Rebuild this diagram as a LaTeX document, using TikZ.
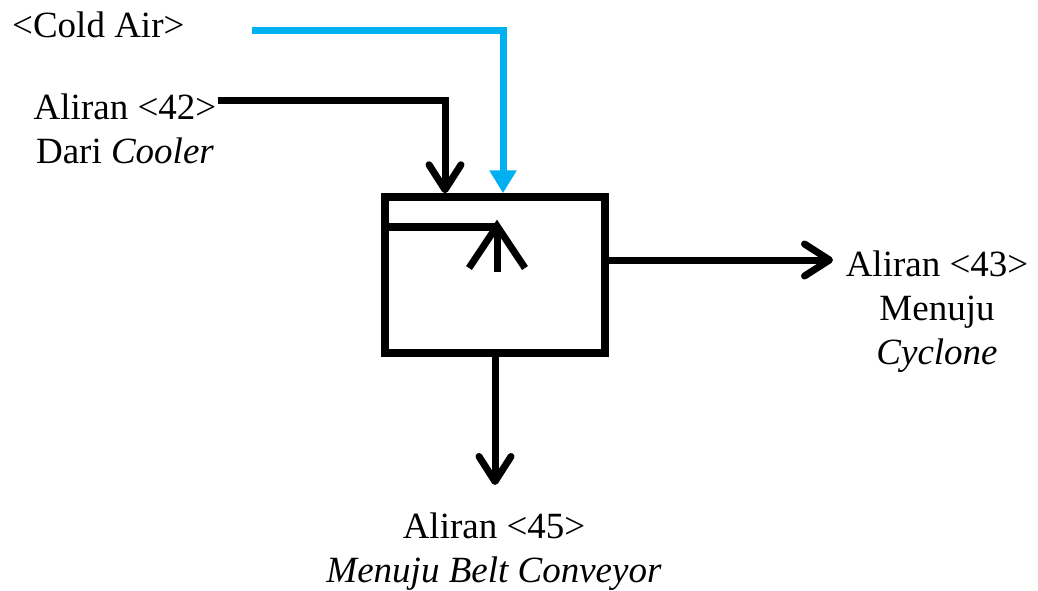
\documentclass[tikz,border=0pt]{standalone}
\usepackage{fontspec}
\setmainfont{Liberation Serif}
\usetikzlibrary{arrows.meta}
\definecolor{coldblue}{HTML}{00B0F0}
\begin{document}
\begin{tikzpicture}[x=1pt,y=-1pt,
  lbl/.style={font=\fontsize{37}{44}\selectfont, inner sep=0pt, align=center},
  unit/.style={draw, line width=7.5pt, minimum width=220pt, minimum height=156pt, inner sep=0pt},
  flow/.style={line width=7pt, line join=miter,
    -{Straight Barb[length=25pt,width=32pt,line cap=round,line join=round]}},
  cold/.style={line width=7pt, draw=coldblue, line join=miter,
    -{Triangle[length=23pt,width=26pt,fill=coldblue]}}]
\useasboundingbox (0,0) rectangle (1038,590);

% mixing unit
\node[unit] (box) at (495,275) {};

% internal flow mark
\draw[line width=7.5pt] (box.west |- 0,227) -- (497,227);
\draw[line width=7pt] (497,226) -- (497,272);
\draw[line width=7pt, line join=miter] (469,268) -- (497,226) -- (525,268);

% labels (base anchor = baseline of the last line)
\node[lbl, anchor=base west] (cold) at (12,37) {<Cold Air>};
\node[lbl, anchor=base] (s42) at (125,163) {Aliran <42>\\Dari \textit{Cooler}};
\node[lbl, anchor=base] (s43) at (937,364) {Aliran <43>\\Menuju\\\textit{Cyclone}};
\node[lbl, anchor=base] (s45) at (494,582) {Aliran <45>\\\textit{Menuju Belt Conveyor}};

% stream end points
\coordinate (in42) at (218,100);
\coordinate (incold) at (252,30);
\coordinate (out43) at (833,260);
\coordinate (out45) at (495,485);

% streams
\draw[cold] (incold) -| ([xshift=8pt]box.north);
\draw[flow] (in42) -| ([xshift=-50pt]box.north);
\draw[flow] ([yshift=15pt]box.east) -- (out43);
\draw[flow] (box.south) -- (out45);
\end{tikzpicture}
\end{document}
